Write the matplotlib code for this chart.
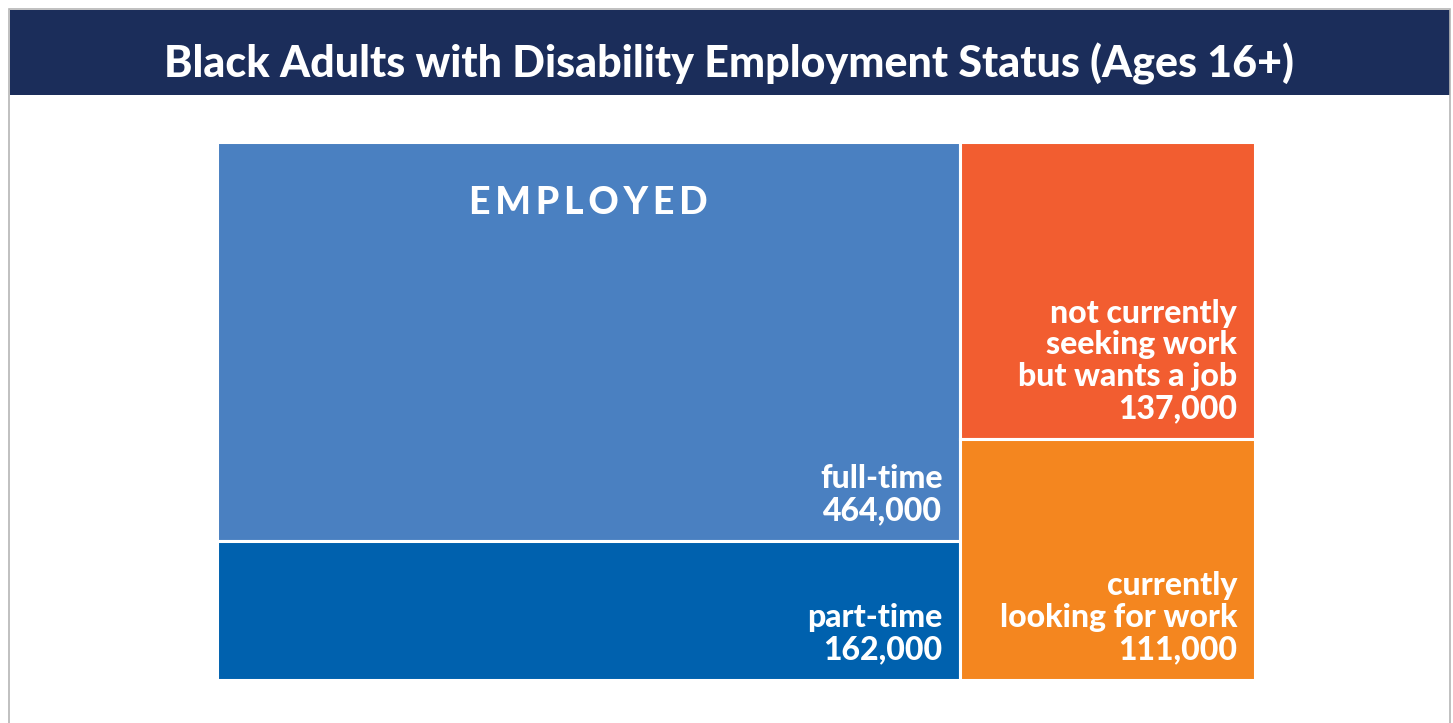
import matplotlib
matplotlib.use("Agg")
import matplotlib.pyplot as plt
from matplotlib.patches import Rectangle

plt.rcParams['font.family'] = ['Lato', 'DejaVu Sans']

title = "Black Adults with Disability Employment Status (Ages 16+)"

# treemap data: two groups, two parts each (top part first)
groups = ["EMPLOYED", ""]
group_members = [["full-time", "part-time"],
                 ["not currently\nseeking work\nbut wants a job", "currently\nlooking for work"]]
group_values = [[464000, 162000],
                [137000, 111000]]
group_colors = [["#4a80c1", "#0061ae"],
                ["#f25d30", "#f4861f"]]

fig = plt.figure(figsize=(14.53, 7.23), dpi=100)
W, H = 1453, 723

# grey frame round the panel
fig.patches.append(Rectangle((9 / W, -0.02), 1441 / W, (H - 9) / H + 0.02, fill=False,
                             edgecolor="#b5b5b5", lw=1.2, transform=fig.transFigure))

# header band
hax = fig.add_axes([9.5 / W, (H - 95) / H, 1440 / W, 85 / H])
hax.set_facecolor("#1b2d5a")
hax.set_xticks([])
hax.set_yticks([])
for s in hax.spines.values():
    s.set_visible(False)
hax.text(0.5, 0.36, title, color="white", fontsize=31, fontweight="black",
         ha="center", va="center", transform=hax.transAxes)

# treemap built from stacked bars, column width = group total
ax = fig.add_axes([217 / W, (H - 680) / H, 1038 / W, 538 / H])
totals = [sum(v) for v in group_values]
x0 = 0
for g, name in enumerate(groups):
    tot = totals[g]
    bottom = 1.0
    for label, val, col in zip(group_members[g], group_values[g], group_colors[g]):
        frac = val / tot
        bottom -= frac
        ax.bar(x0, frac, width=tot, bottom=bottom, align="edge", color=col,
               edgecolor="white", linewidth=2.2)
        ax.annotate(f"{label}\n{val:,}", xy=(x0 + tot, bottom), xytext=(-18, 21),
                    textcoords="offset pixels", ha="right", va="baseline",
                    color="white", fontsize=23, fontweight="black", linespacing=1.12,
                    multialignment="right")
    if name:
        ax.annotate("\u2009".join(name), xy=(x0 + tot / 2, 1.0), xytext=(0, -44),
                    textcoords="offset pixels", ha="center", va="top",
                    color="white", fontsize=27, fontweight="black")
    x0 += tot

ax.set_xlim(0, sum(totals))
ax.set_ylim(0, 1)
ax.axis("off")

fig.savefig("out.png", dpi=100)
